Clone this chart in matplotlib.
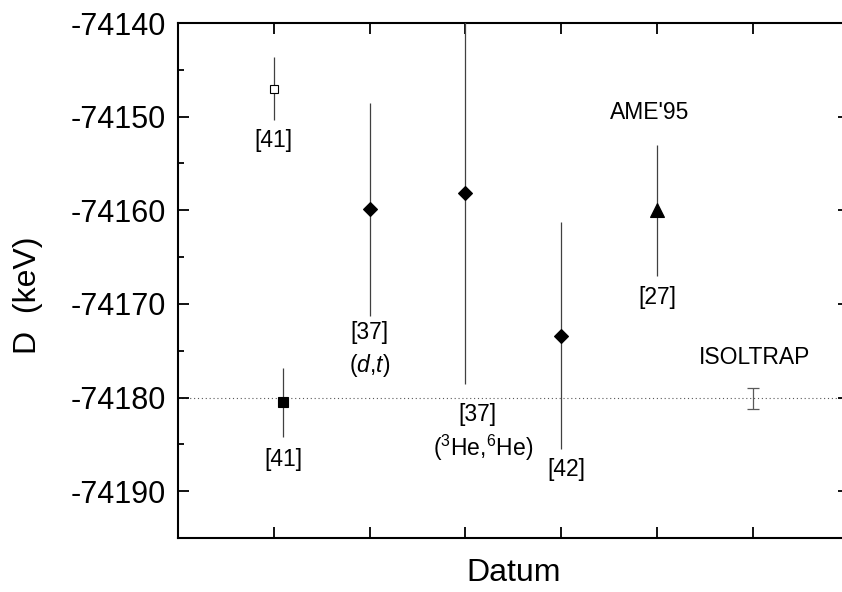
import numpy as np
import matplotlib.pyplot as plt
from matplotlib.ticker import MultipleLocator

plt.rcParams['font.family'] = ['Liberation Sans', 'DejaVu Sans']
plt.rcParams['mathtext.fontset'] = 'custom'
plt.rcParams['mathtext.rm'] = 'Liberation Sans'
plt.rcParams['mathtext.it'] = 'Liberation Sans:italic'

# Daten
x_pos = [1, 1.1, 2, 3, 4, 5, 6]
values = [-74147.0, -74180.5, -74159.9, -74158.2, -74173.4, -74160.0, -74180.1]
errors = [3.4, 3.7, 11.4, 20.4, 12.1, 7.0, 1.15]
markers = ['s', 's', 'D', 'D', 'D', '^', '']
reference = -74180.0

label_texts = ['[41]', '[41]', '[37]', '($d$,$t$)', '[37]', '($^3$He,$^6$He)', '[42]',
               '[27]', "AME'95", 'ISOLTRAP']
label_x = [1.0, 1.1, 2.0, 2.0, 3.13, 3.18, 4.05, 5.0, 4.92, 6.02]
label_y = [-74152.5, -74186.6, -74173.0, -74176.6, -74181.8, -74185.4, -74187.7,
           -74169.3, -74149.6, -74175.7]

fig = plt.figure(figsize=(8.42, 5.92), dpi=100)
ax = fig.add_axes([0.2114, 0.0912, 0.7964, 0.8699])

# Referenzlinie
ax.axhline(reference, color='0.35', linestyle=(0, (1, 2.5)), linewidth=0.8, zorder=1)

for i in range(len(x_pos)):
    if markers[i] == '':
        ax.errorbar(x_pos[i], values[i], yerr=errors[i], fmt='none', ecolor='0.35',
                    elinewidth=0.9, capsize=4.5, capthick=0.9, zorder=2)
        continue
    if i == 0:
        face, ms = 'white', 6
    elif markers[i] == 's':
        face, ms = 'black', 7
    elif markers[i] == 'D':
        face, ms = 'black', 7
    else:
        face, ms = 'black', 9.5
    ax.errorbar(x_pos[i], values[i], yerr=errors[i], fmt=markers[i], color='black',
                markerfacecolor=face, markeredgecolor='black', markeredgewidth=0.8,
                markersize=ms, ecolor='0.25', elinewidth=0.9, capsize=0, zorder=3)

for t, lx, ly in zip(label_texts, label_x, label_y):
    ax.text(lx, ly, t, ha='center', va='center', fontsize=16.5)

ax.set_xlim(0, 7)
ax.set_ylim(-74195, -74140)
ax.xaxis.set_major_locator(MultipleLocator(1))
ax.yaxis.set_major_locator(MultipleLocator(10))
ax.yaxis.set_minor_locator(MultipleLocator(5))
ax.set_xticklabels([])
ax.yaxis.set_major_formatter(plt.FuncFormatter(lambda v, p: f'{v:.0f}'))

ax.tick_params(which='both', direction='in', top=True, right=True, width=1.3)
ax.tick_params(which='major', length=8, labelsize=22, pad=8.5)
ax.tick_params(which='minor', length=4.5)
ax.tick_params(axis='x', which='minor', bottom=False, top=False)
for s in ax.spines.values():
    s.set_linewidth(1.5)
ax.spines['right'].set_visible(False)

ax.set_xlabel('Datum', fontsize=23)
ax.xaxis.set_label_coords(0.5, -0.038)
ax.set_ylabel('D  (keV)', fontsize=23)
ax.yaxis.set_label_coords(-0.202, 0.472)

plt.savefig('out.png', dpi=100)
